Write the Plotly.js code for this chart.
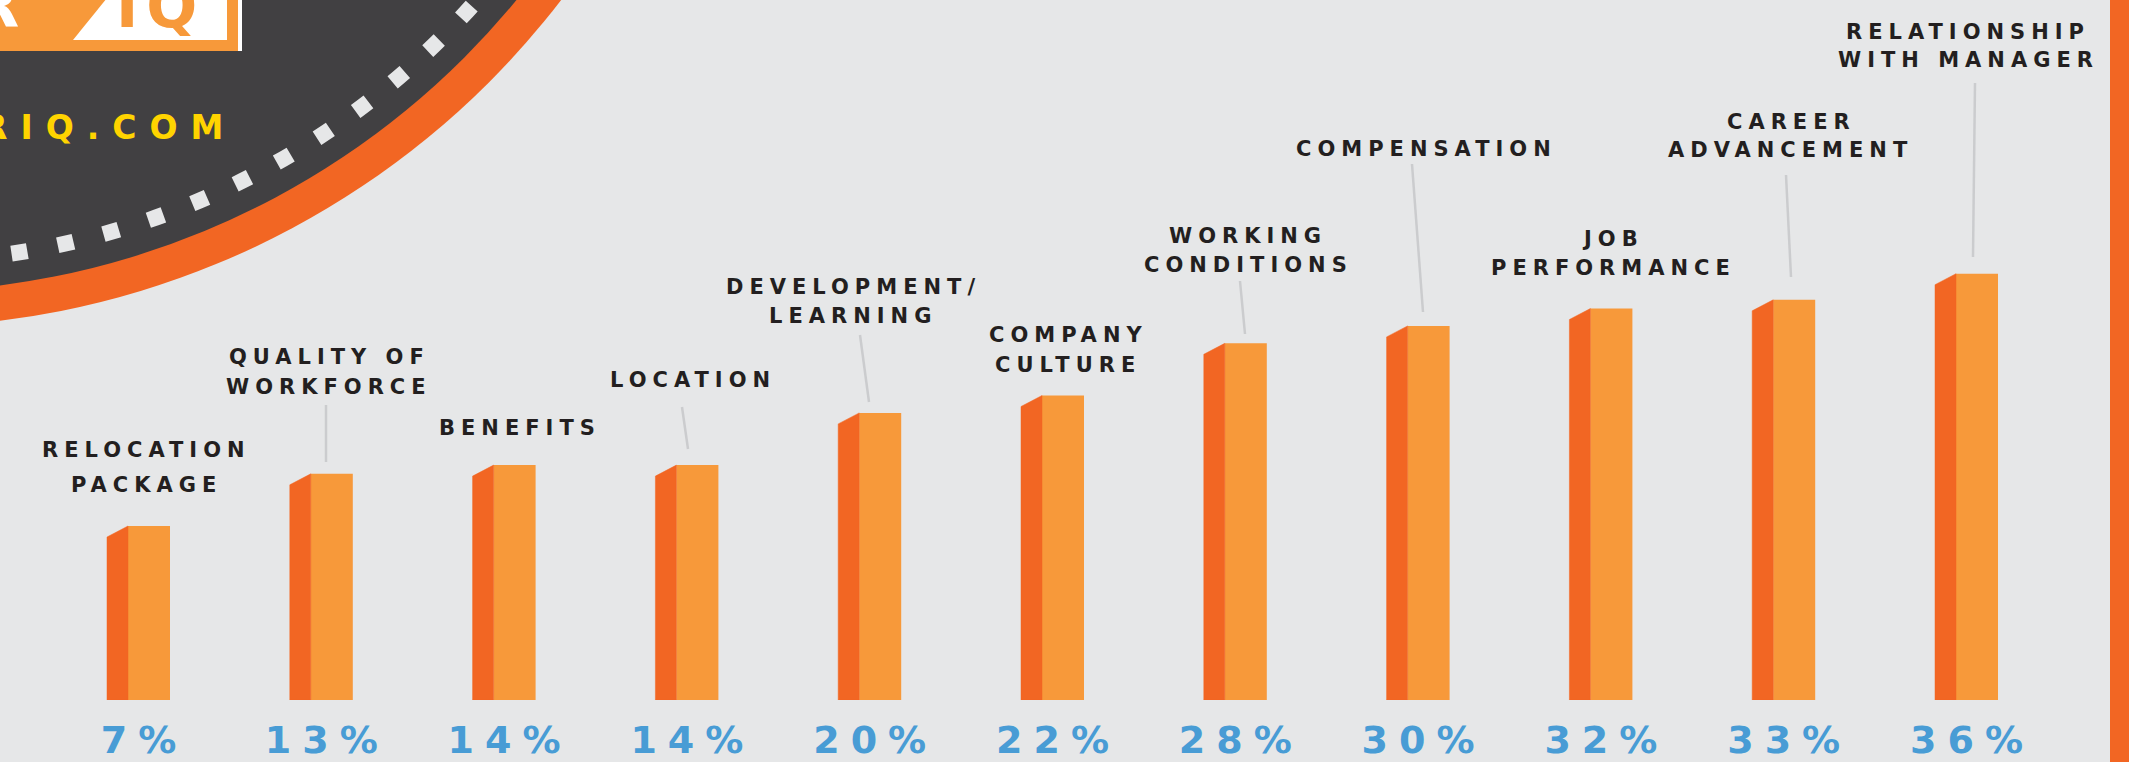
<!DOCTYPE html>
<html><head><meta charset="utf-8">
<script src="https://cdn.plot.ly/plotly-3.0.1.min.js"></script>
<style>html,body{margin:0;padding:0;background:#E6E7E8;overflow:hidden}</style>
</head><body><div id="chart" style="width:2129px;height:762px"></div>
<script>
// ---- data ----
const categories = [
  "RELOCATION|PACKAGE", "QUALITY OF|WORKFORCE", "BENEFITS", "LOCATION",
  "DEVELOPMENT/|LEARNING", "COMPANY|CULTURE", "WORKING|CONDITIONS",
  "COMPENSATION", "JOB|PERFORMANCE", "CAREER|ADVANCEMENT", "RELATIONSHIP|WITH MANAGER"
];
const values = [7, 13, 14, 14, 20, 22, 28, 30, 32, 33, 36];
const tickLabels = values.map(v => v + "%");

// ---- layout (pixel positions of label blocks: center x, first line y, line pitch) ----
const labelPos = [
  [143, 449.5, 35.5], [326, 357, 30], [517, 428.5, 0], [690, 380, 0],
  [850, 286.5, 29.5], [1065, 334.5, 30], [1245, 236, 29],
  [1423, 148.5, 0], [1610, 238.5, 29.5], [1788, 121.5, 29], [1965, 31.5, 29]
];
const leaders = [
  null, [326, 405, 326, 462], null, [682, 407, 688, 449], [860, 335, 869, 402],
  null, [1240, 281, 1245, 334], [1412, 164, 1423, 312], null,
  [1786, 175, 1791, 277], [1975, 83, 1973, 257]
];

const W = 2129, H = 762, MB = 62, PH = H - MB;
const PX_PER_UNIT = 8.7, BAR_BASE = -13, SLOT = 182.8;
const X0 = -138.5 / SLOT;
const X = px => px / W;
const Y = py => (PH - py) / PH;

const C_LIGHT = "#F7993A", C_DARK = "#F26623", BG = "#E6E7E8";
const C_TEXT = "#231F20", C_BLUE = "#489CD5", C_GREY = "#414042";

function spaced(s, ls) {
  return '<span style="letter-spacing:' + ls + 'px">' + s.slice(0, -1) + '</span>' + s.slice(-1);
}

const idx = values.map((_, i) => i);

// light front face
const face = {
  type: "bar", x: idx, y: values.map(v => v - BAR_BASE), base: BAR_BASE,
  width: 42 / SLOT, offset: -10.5 / SLOT,
  marker: {color: C_LIGHT, line: {width: 0}}, hoverinfo: "skip", showlegend: false
};
// dark side with slanted top
const sx = [], sy = [];
const drop = 11 / PX_PER_UNIT;
values.forEach((v, i) => {
  const xl = i - 31.5 / SLOT, xr = i - 10.5 / SLOT;
  sx.push(xl, xl, xr, xr, xl, null);
  sy.push(BAR_BASE, v - drop, v, BAR_BASE, BAR_BASE, null);
});
const side = {
  type: "scatter", mode: "lines", x: sx, y: sy, fill: "toself",
  fillcolor: C_DARK, line: {color: C_DARK, width: 0.5},
  hoverinfo: "skip", showlegend: false
};

// ---- decoration shapes ----
const cx = -102, cy = -509;
function circ(r, extra) {
  return Object.assign({type: "circle", xref: "paper", yref: "paper", layer: "below",
    x0: X(cx - r), x1: X(cx + r), y0: Y(cy + r), y1: Y(cy - r)}, extra);
}
const shapes = [
  circ(836, {fillcolor: C_DARK, line: {width: 0}}),
  circ(801, {fillcolor: C_GREY, line: {width: 0}}),
  circ(771, {fillcolor: "rgba(0,0,0,0)", line: {color: BG, width: 16, dash: "16px,31px"}}),
  {type: "rect", xref: "paper", yref: "paper", layer: "below",
   x0: X(0), x1: X(238), y0: Y(51), y1: Y(-5), fillcolor: C_LIGHT, line: {width: 0}},
  {type: "rect", xref: "paper", yref: "paper", layer: "below",
   x0: X(238), x1: X(242), y0: Y(51), y1: Y(-5), fillcolor: "#FFFFFF", line: {width: 0}},
  {type: "path", xref: "paper", yref: "paper", layer: "below",
   path: "M " + X(73) + "," + Y(40) + " L " + X(107) + "," + Y(-2) + " L " + X(227) + "," + Y(-2) +
         " L " + X(227) + "," + Y(40) + " Z",
   fillcolor: "#FFFFFF", line: {width: 0}},
  {type: "rect", xref: "paper", yref: "paper", layer: "below",
   x0: X(2110), x1: X(2140), y0: Y(H + 5), y1: Y(-5), fillcolor: C_DARK, line: {width: 0}}
];
leaders.forEach(l => {
  if (!l) return;
  shapes.push({type: "line", xref: "paper", yref: "paper", layer: "below",
    x0: X(l[0]), y0: Y(l[1]), x1: X(l[2]), y1: Y(l[3]),
    line: {color: "#CBCCCE", width: 2.5}});
});

// ---- annotations ----
const annotations = [];
categories.forEach((c, i) => {
  const lines = c.split("|");
  const p = labelPos[i];
  lines.forEach((ln, k) => {
    annotations.push({xref: "paper", yref: "paper", x: X(p[0]), y: Y(p[1] + k * p[2]),
      xanchor: "center", yanchor: "middle", showarrow: false,
      text: spaced(ln, 6),
      font: {family: "DejaVu Sans", size: 21, weight: "bold", color: C_TEXT}});
  });
});
annotations.push({xref: "paper", yref: "paper", x: X(156), y: Y(6), xanchor: "center", yanchor: "middle",
  showarrow: false, text: spaced("IQ", 8), font: {family: "DejaVu Sans", size: 60, weight: "bold", color: C_LIGHT}});
annotations.push({xref: "paper", yref: "paper", x: X(21), y: Y(6), xanchor: "right", yanchor: "middle",
  showarrow: false, text: "R", font: {family: "DejaVu Sans", size: 60, weight: "bold", color: "#FFFFFF"}});
annotations.push({xref: "paper", yref: "paper", x: X(225), y: Y(128), xanchor: "right", yanchor: "middle",
  showarrow: false, text: spaced("RIQ.COM", 13), font: {family: "DejaVu Sans", size: 33, weight: "bold", color: "#FFD400"}});

const layout = {
  width: W, height: H,
  margin: {l: 0, r: 0, t: 0, b: MB, pad: 0},
  paper_bgcolor: BG, plot_bgcolor: "rgba(0,0,0,0)",
  showlegend: false,
  xaxis: {range: [X0, X0 + W / SLOT], tickmode: "array", tickvals: idx,
    ticktext: tickLabels.map(t => spaced(t, 11)), tickangle: 0,
    ticks: "", showgrid: false, zeroline: false, showline: false, automargin: false,
    ticklabelstandoff: 14, fixedrange: true,
    tickfont: {family: "DejaVu Sans", size: 38, weight: "bold", color: C_BLUE}},
  yaxis: {range: [BAR_BASE, BAR_BASE + PH / PX_PER_UNIT], visible: false,
    showgrid: false, zeroline: false, fixedrange: true},
  shapes: shapes, annotations: annotations
};

Plotly.newPlot("chart", [face, side], layout, {displayModeBar: false, staticPlot: true});
</script></body></html>
